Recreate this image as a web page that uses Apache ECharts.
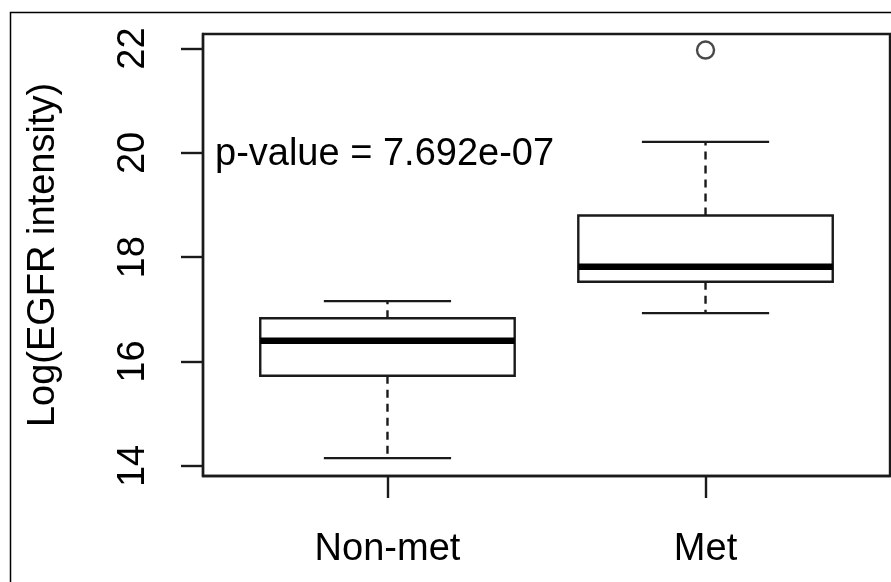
<!DOCTYPE html>
<html>
<head>
<meta charset="utf-8">
<script src="https://cdn.jsdelivr.net/npm/echarts@6/dist/echarts.min.js"></script>
<style>
  html, body { margin: 0; padding: 0; background: #fff; }
  #chart { width: 891px; height: 582px; }
</style>
</head>
<body>
<div id="chart"></div>
<script>
// Group names and their positions on the x scale
const groups = ['Non-met', 'Met'];
const groupPos = [1, 2];

// Five-number summaries: [low whisker, Q1, median, Q3, high whisker]
const nonMetStats = [14.15, 15.73, 16.40, 16.83, 17.16];
const metStats = [16.93, 17.53, 17.82, 18.80, 20.21];

// Points beyond the whiskers: [group position, value]
const outliers = [[2, 21.97]];

// Y tick labels
const yTicks = [14, 16, 18, 20, 22];

const pValueText = 'p-value = 7.692e-07';

const ink = '#1a1a1a';
const font = 'Liberation Sans, Arial, sans-serif';
const fontSize = 38;
const lw = 2.4;

const boxData = [
  [groupPos[0]].concat(nonMetStats),
  [groupPos[1]].concat(metStats)
];

function renderBox(params, api) {
  const x = api.value(0);
  const lo = api.coord([x, api.value(1)]);
  const q1 = api.coord([x, api.value(2)]);
  const med = api.coord([x, api.value(3)]);
  const q3 = api.coord([x, api.value(4)]);
  const hi = api.coord([x, api.value(5)]);
  const halfBox = api.size([0.8, 0])[0] / 2;
  const halfCap = halfBox / 2;
  const cx = med[0];
  const solid = { stroke: ink, lineWidth: lw, fill: null };
  const dashed = { stroke: ink, lineWidth: lw, lineDash: [8, 6], fill: null };
  return {
    type: 'group',
    children: [
      { type: 'line', shape: { x1: cx, y1: q1[1], x2: cx, y2: lo[1] }, style: dashed },
      { type: 'line', shape: { x1: cx, y1: q3[1], x2: cx, y2: hi[1] }, style: dashed },
      { type: 'line', shape: { x1: cx - halfCap, y1: lo[1], x2: cx + halfCap, y2: lo[1] }, style: solid },
      { type: 'line', shape: { x1: cx - halfCap, y1: hi[1], x2: cx + halfCap, y2: hi[1] }, style: solid },
      { type: 'rect', shape: { x: cx - halfBox, y: q3[1], width: halfBox * 2, height: q1[1] - q3[1] },
        style: { stroke: ink, lineWidth: lw, fill: '#fff' } },
      { type: 'line', shape: { x1: cx - halfBox, y1: med[1], x2: cx + halfBox, y2: med[1] },
        style: { stroke: '#000', lineWidth: 6.5 } }
    ]
  };
}

const chart = echarts.init(document.getElementById('chart'), null, { renderer: 'canvas' });

chart.setOption({
  animation: false,
  backgroundColor: '#fff',
  textStyle: { fontFamily: font },
  grid: {
    left: 203, top: 34, right: 1, height: 442,
    show: true, borderColor: ink, borderWidth: lw, backgroundColor: 'transparent',
    containLabel: false
  },
  xAxis: {
    type: 'value',
    min: 0.42, max: 2.58,
    splitLine: { show: false },
    axisLine: { show: true, onZero: false, lineStyle: { color: ink, width: lw } },
    axisTick: { show: true, length: 22, lineStyle: { color: ink, width: lw }, customValues: groupPos },
    axisLabel: {
      customValues: groupPos,
      margin: 55,
      color: '#000', fontSize: fontSize, fontFamily: font,
      formatter: function (v) { return groups[groupPos.indexOf(v)] || ''; }
    }
  },
  yAxis: {
    type: 'value',
    min: 13.808, max: 22.278,
    name: 'Log(EGFR intensity)',
    nameLocation: 'middle',
    nameRotate: 90,
    nameGap: 140,
    nameTextStyle: { color: '#000', fontSize: fontSize, fontFamily: font },
    splitLine: { show: false },
    axisLine: { show: true, lineStyle: { color: ink, width: lw } },
    axisTick: { show: true, length: 22, lineStyle: { color: ink, width: lw }, customValues: yTicks },
    axisLabel: {
      customValues: yTicks,
      rotate: 90,
      margin: 50,
      color: '#000', fontSize: fontSize, fontFamily: font
    }
  },
  graphic: [
    {
      type: 'rect',
      shape: { x: 10.5, y: 12.5, width: 900, height: 600 },
      style: { fill: null, stroke: '#000', lineWidth: 1.5 },
      z: 100, silent: true
    },
    {
      type: 'text',
      left: 215, top: 136,
      style: { text: pValueText, fill: '#000', font: fontSize + 'px ' + font },
      z: 100
    }
  ],
  series: [
    {
      type: 'custom',
      renderItem: renderBox,
      data: boxData,
      encode: { x: 0, y: [1, 2, 3, 4, 5] },
      z: 2
    },
    {
      type: 'scatter',
      data: outliers,
      symbol: 'circle',
      symbolSize: 17,
      itemStyle: { color: '#fff', borderColor: ink, borderWidth: lw },
      z: 3
    }
  ]
});
</script>
</body>
</html>
